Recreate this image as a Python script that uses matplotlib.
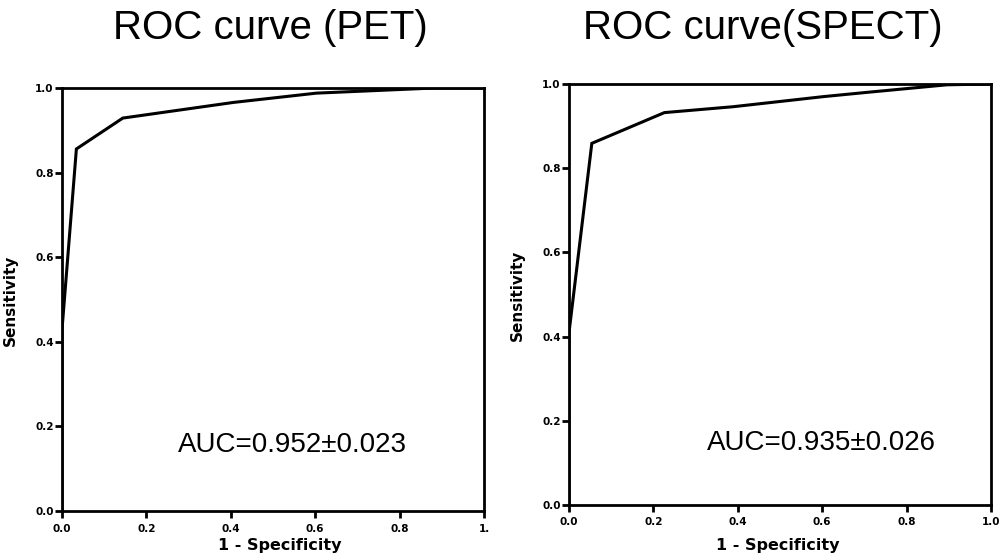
# plot.py: two ROC curves side by side (PET vs SPECT)

import matplotlib
matplotlib.use('Agg')
import matplotlib.pyplot as plt

# ROC points
pet_fpr = [0.0, 0.0, 0.034, 0.144, 0.406, 0.603, 0.88, 1.0]
pet_tpr = [0.0, 0.43, 0.856, 0.929, 0.966, 0.988, 1.0, 1.0]
spect_fpr = [0.0, 0.0, 0.054, 0.226, 0.389, 0.603, 0.705, 0.895, 1.0]
spect_tpr = [0.0, 0.41, 0.859, 0.932, 0.946, 0.970, 0.980, 0.998, 1.0]

titles = ['ROC curve (PET)', 'ROC curve(SPECT)']
auc_texts = ['AUC=0.952\u00b10.023', 'AUC=0.935\u00b10.026']
ticks = [0.0, 0.2, 0.4, 0.6, 0.8, 1.0]
pet_xticklabels = ['0.0', '0.2', '0.4', '0.6', '0.8', '1.']
spect_xticklabels = ['0.0', '0.2', '0.4', '0.6', '0.8', '1.0']
yticklabels = ['0.0', '0.2', '0.4', '0.6', '0.8', '1.0']

fig = plt.figure(figsize=(9.99, 5.58), dpi=100)

panels = [
    # axes rect, data, x tick labels, auc position, title x, xlabel pos
    ([0.0621, 0.0842, 0.4224, 0.758], pet_fpr, pet_tpr, pet_xticklabels,
     (0.545, 0.156), 0.271, (0.517, -0.064)),
    ([0.5696, 0.095, 0.4224, 0.7545], spect_fpr, spect_tpr, spect_xticklabels,
     (0.597, 0.147), 0.764, (0.495, -0.078)),
]

for i, (rect, x, y, xtl, auc_pos, tx, lpos) in enumerate(panels):
    ax = fig.add_axes(rect)
    ax.plot(x, y, color='black', linewidth=2.2, solid_joinstyle='miter')

    ax.set_xlim(0, 1)
    ax.set_ylim(0, 1)
    ax.set_xticks(ticks)
    ax.set_xticklabels(xtl)
    ax.set_yticks(ticks)
    ax.set_yticklabels(yticklabels)

    for s in ax.spines.values():
        s.set_linewidth(2.0)
    ax.tick_params(direction='out', length=5, width=2, labelsize=7.5)
    ax.tick_params(axis='y', pad=1)
    ax.tick_params(axis='x', pad=4)
    for lab in ax.get_xticklabels() + ax.get_yticklabels():
        lab.set_fontweight('bold')

    ax.set_xlabel('1 - Specificity', fontsize=11.5, fontweight='bold')
    ax.set_ylabel('Sensitivity', fontsize=11, fontweight='bold')
    ax.xaxis.set_label_coords(lpos[0], lpos[1])
    ax.yaxis.set_label_coords(-0.104, 0.497)

    ax.text(auc_pos[0], auc_pos[1], auc_texts[i], transform=ax.transAxes,
            fontsize=20, family='Liberation Sans', ha='center', va='center')

    fig.text(tx, 0.949, titles[i], fontsize=29, family='Liberation Sans',
             ha='center', va='center')

plt.savefig('out.png', dpi=100)
